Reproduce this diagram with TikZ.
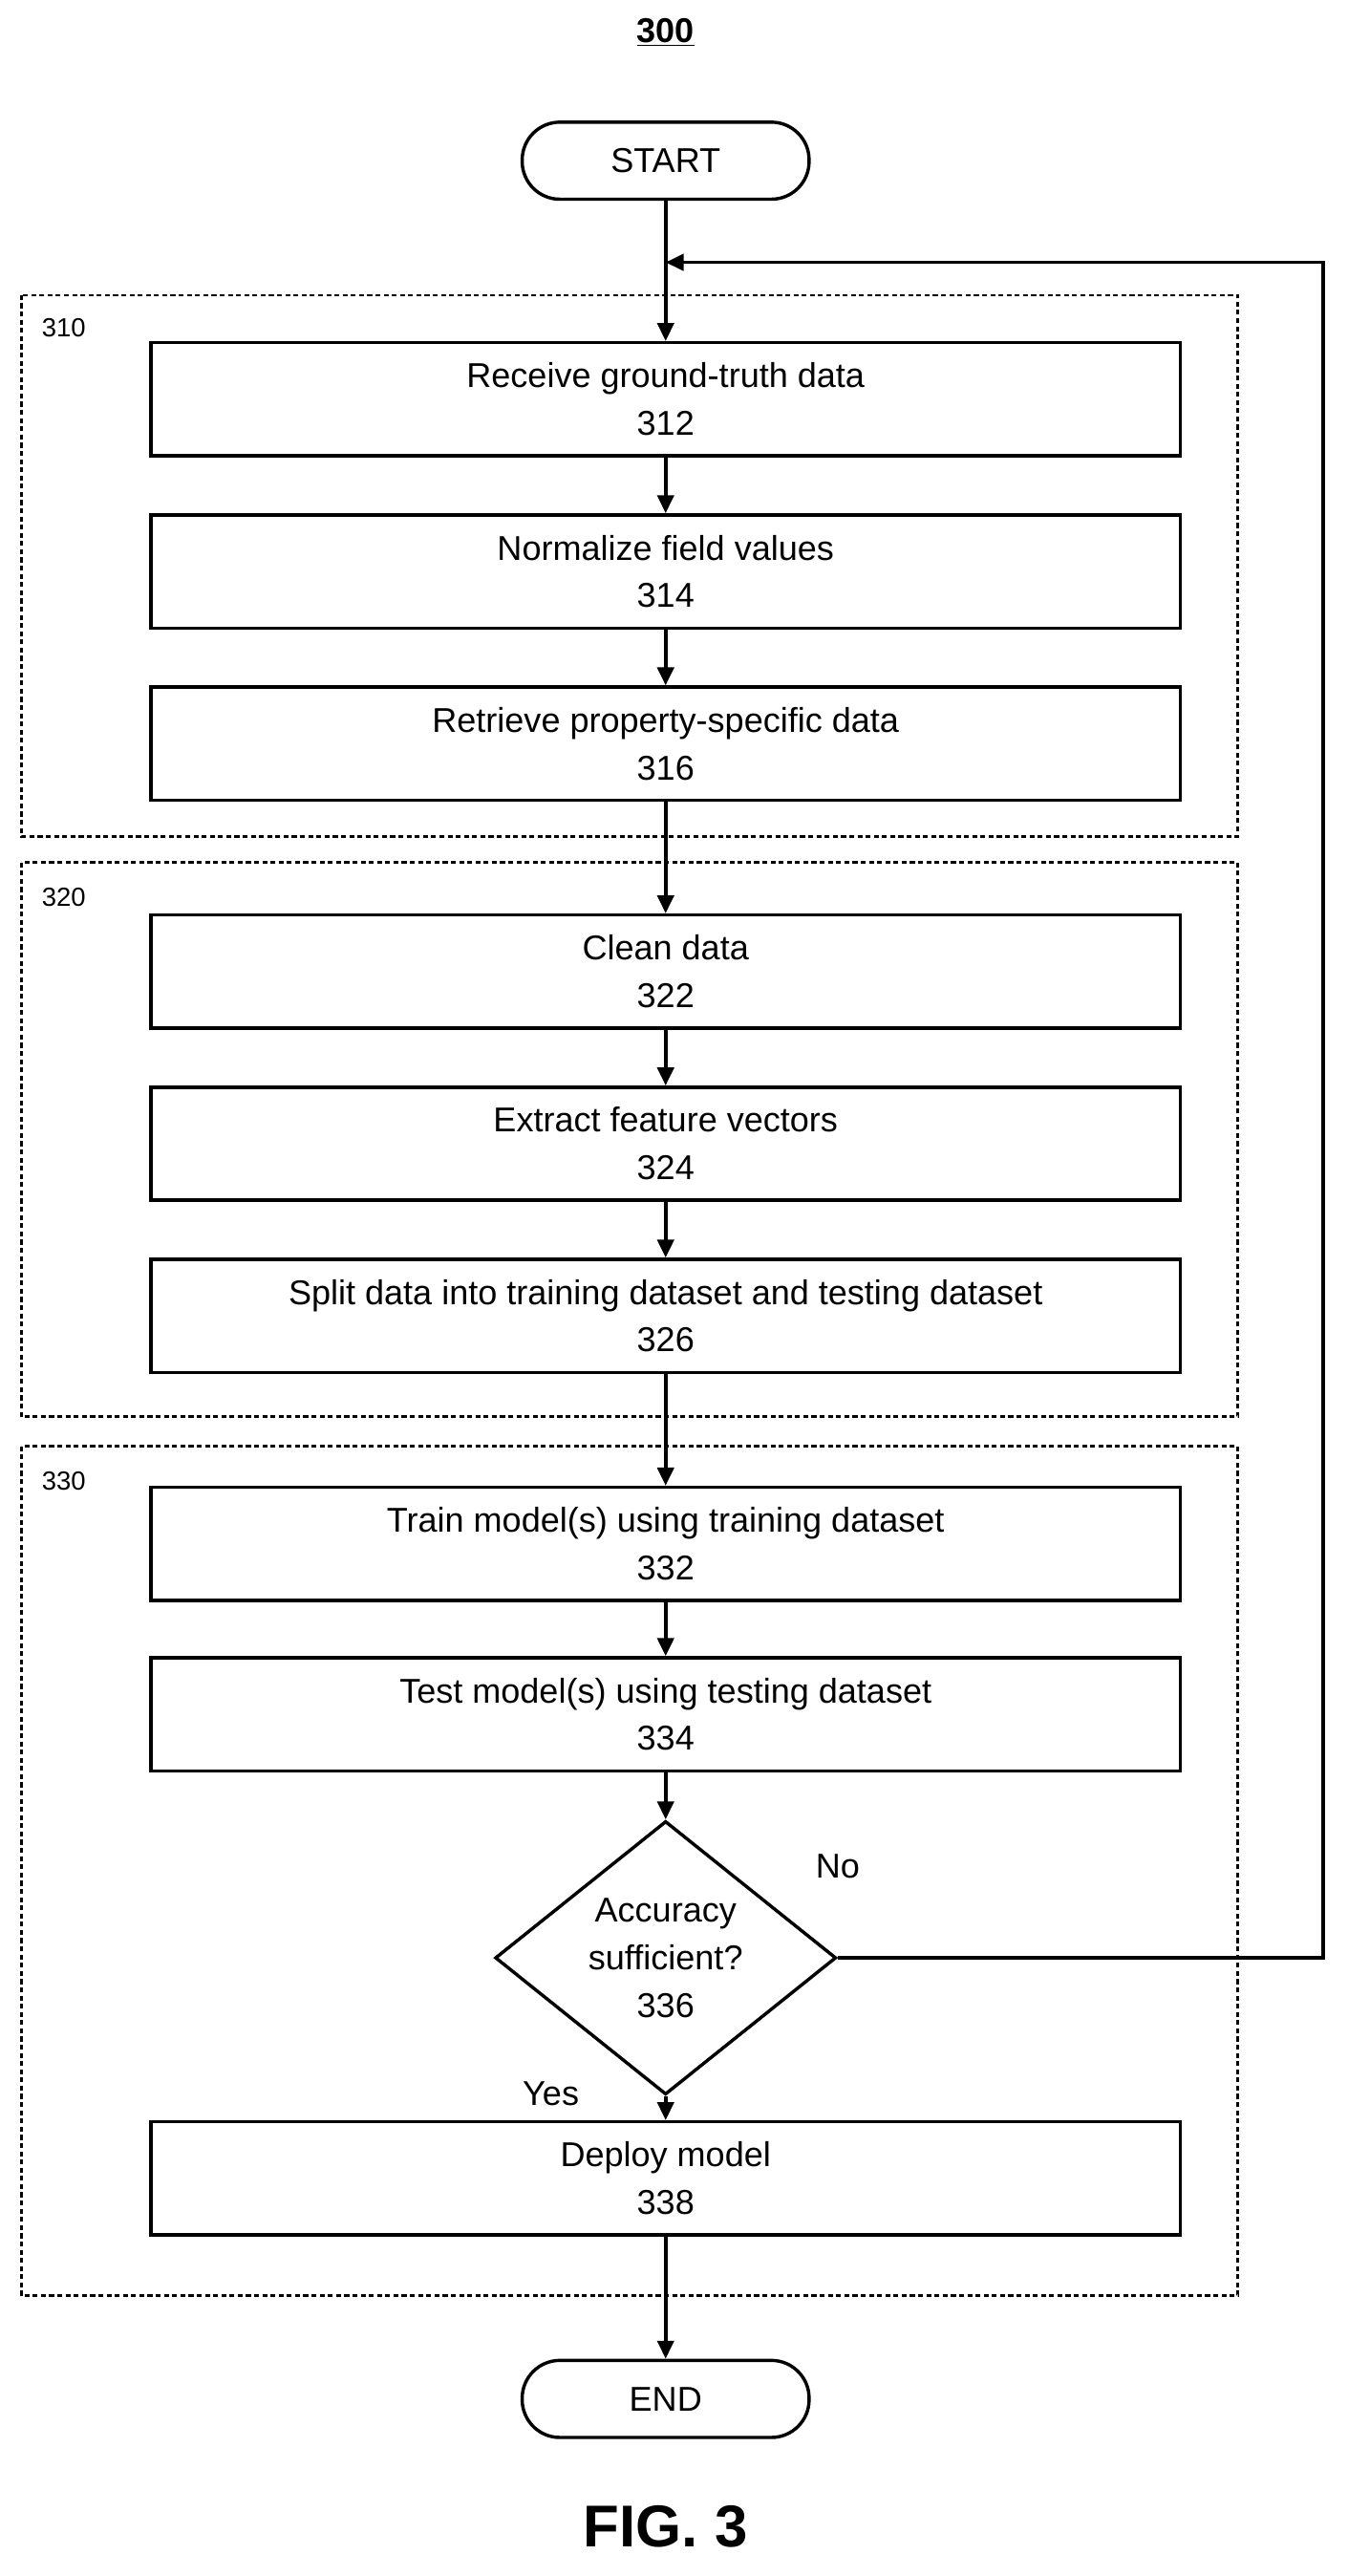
\documentclass[tikz,border=0pt]{standalone}
\usepackage{fontspec}
\setmainfont{Liberation Sans}
\usetikzlibrary{shapes.geometric,arrows.meta}
\begin{document}
\begin{tikzpicture}[x=1pt,y=-1pt,
  txt/.style={font=\fontsize{21}{25}\selectfont},
  box/.style={draw,line width=2pt,minimum width=628pt,minimum height=69pt,align=center,txt,inner sep=0pt},
  term/.style={draw,line width=2pt,rounded corners=23pt,minimum width=175pt,minimum height=47pt,txt},
  grp/.style={draw,dashed,dash pattern=on 3pt off 2pt,line width=1.6pt},
  arr/.style={line width=2.2pt,-{Triangle[length=11pt,width=10pt]}},
  lab/.style={font=\fontsize{16}{18}\selectfont,anchor=west}]
\useasboundingbox (0,0) rectangle (822,1571);
\node[font=\fontsize{21}{25}\selectfont\bfseries] (title) at (406,20) {\underline{300}};
\node[term] (start) at (406,98) {START};
\draw[grp] (13,180) rectangle (755,510); \node[lab] (l310) at (22,200) {310};
\draw[grp] (13,526) rectangle (755,864); \node[lab] (l320) at (22,547) {320};
\draw[grp] (13,882) rectangle (755,1400); \node[lab] (l330) at (22,903) {330};
\node[box] (b312) at (406,243.5) {Receive ground-truth data\\[4pt]312};
\node[box] (b314) at (406,348.5) {Normalize field values\\[4pt]314};
\node[box] (b316) at (406,453.5) {Retrieve property-specific data\\[4pt]316};
\node[box] (b322) at (406,592.5) {Clean data\\[4pt]322};
\node[box] (b324) at (406,697.5) {Extract feature vectors\\[4pt]324};
\node[box] (b326) at (406,802.5) {Split data into training dataset and testing dataset\\[4pt]326};
\node[box] (b332) at (406,941.5) {Train model(s) using training dataset\\[4pt]332};
\node[box] (b334) at (406,1045.5) {Test model(s) using testing dataset\\[4pt]334};
\node[draw,line width=2pt,diamond,minimum width=208pt,minimum height=156pt,inner sep=0pt,align=center,txt] (d336) at (406,1194) {Accuracy\\[4pt]sufficient?\\[4pt]336};
\node[box] (b338) at (406,1328.5) {Deploy model\\[4pt]338};
\node[term] (end) at (406,1463) {END};
\node[txt] (no) at (511,1138) {No};
\node[txt] (yes) at (336,1277) {Yes};
\node[font=\fontsize{36}{40}\selectfont\bfseries] (fig) at (406,1541) {FIG. 3};
\coordinate (loop) at (406,160);
\draw[arr] (start) -- (b312);
\draw[arr] (b312) -- (b314);
\draw[arr] (b314) -- (b316);
\draw[arr] (b316) -- (b322);
\draw[arr] (b322) -- (b324);
\draw[arr] (b324) -- (b326);
\draw[arr] (b326) -- (b332);
\draw[arr] (b332) -- (b334);
\draw[arr] (b334) -- (d336);
\draw[arr] (d336) -- (b338);
\draw[arr] (b338) -- (end);
\draw[arr] (d336.east) -- (807,1194) -- (807,160) -- (loop);
\end{tikzpicture}
\end{document}
